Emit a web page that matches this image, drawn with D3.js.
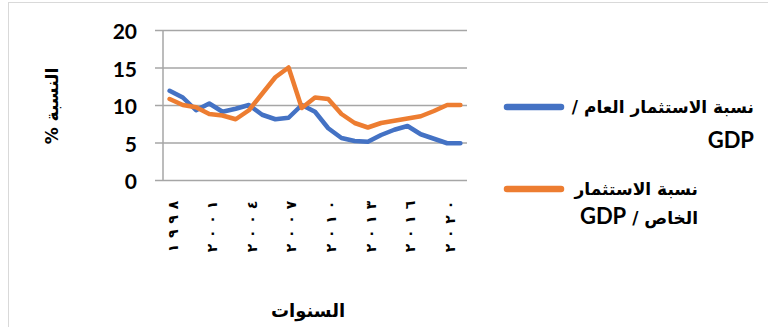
<!DOCTYPE html>
<html>
<head>
<meta charset="utf-8">
<script src="https://cdn.jsdelivr.net/npm/d3@7"></script>
<style>
  body { margin: 0; background: #fff; }
  svg { display: block; }
</style>
</head>
<body>
<div id="chart-container"></div>
<script>
// years on the category axis (23 points)
var categories = ["1998","1999","2000","2001","2002","2003","2004","2005","2006","2007","2008",
                  "2009","2010","2011","2012","2013","2014","2015","2016","2017","2018","2019","2020"];
// labels shown under the axis, one for every 3rd category
var xTickLabels = ["١٩٩٨","٢٠٠١","٢٠٠٤","٢٠٠٧","٢٠١٠","٢٠١٣","٢٠١٦","٢٠٢٠"];
var yTicks = [0, 5, 10, 15, 20];

var publicInv = [11.9, 11.0, 9.3, 10.2, 9.1, 9.5, 10.0, 8.7, 8.1, 8.3, 10.0, 9.1,
                 6.9, 5.6, 5.2, 5.1, 6.0, 6.7, 7.2, 6.1, 5.5, 4.9, 4.9];
var privateInv = [10.8, 10.0, 9.7, 8.8, 8.6, 8.1, 9.3, 11.5, 13.7, 15.0, 9.6, 11.0,
                  10.8, 8.8, 7.6, 7.0, 7.6, 7.9, 8.2, 8.5, 9.2, 10.0, 10.0];

// legend text, split per line: [arabic part, latin part]
var seriesNames = [
  [["نسبة الاستثمار العام /", ""], ["", "GDP"]],
  [["نسبة الاستثمار", ""], ["الخاص / ", "GDP"]]
];
var seriesColors = ["#4472C4", "#ED7D31"];

var width = 768, height = 327;
var plot = {left: 163, right: 467, top: 30, bottom: 180};

var svg = d3.select("#chart-container")
    .append("svg")
    .attr("width", width)
    .attr("height", height);

// outer chart border
svg.append("rect")
    .attr("x", 8.5).attr("y", 2.5)
    .attr("width", width).attr("height", height)
    .attr("fill", "none")
    .attr("stroke", "#d9d9d9");

var x = d3.scaleBand()
    .domain(categories)
    .range([plot.left, plot.right])
    .padding(0);
var y = d3.scaleLinear()
    .domain([0, 20])
    .range([plot.bottom, plot.top]);

function cx(d) { return x(d) + x.bandwidth() / 2; }

// gridlines + y labels
var yAxis = svg.append("g")
    .attr("transform", "translate(" + plot.left + ",0)")
    .call(d3.axisLeft(y).tickValues(yTicks).tickSize(-(plot.right - plot.left)).tickPadding(26));
yAxis.select(".domain").remove();
yAxis.selectAll(".tick line")
    .attr("x1", -8)
    .attr("stroke", "#a6a6a6")
    .attr("stroke-width", 1.5);
yAxis.selectAll(".tick text")
    .attr("dy", "0.42em")
    .style("font-family", "Lato, 'Open Sans', sans-serif")
    .style("font-weight", "bold")
    .style("font-size", "21px")
    .attr("fill", "#000");

// vertical axis line
svg.append("line")
    .attr("x1", plot.left).attr("x2", plot.left)
    .attr("y1", plot.top).attr("y2", plot.bottom)
    .attr("stroke", "#a6a6a6")
    .attr("stroke-width", 1.5);

// x labels, rotated, every third category; digits spaced out one by one
var tickCats = xTickLabels.map(function(t, i) { return categories[i * 3]; });
var xLabel = svg.append("g").selectAll("g")
    .data(tickCats)
  .enter().append("g")
    .attr("transform", function(d) { return "translate(" + (cx(d) + 3) + ",0) rotate(-90)"; });
xLabel.selectAll("text")
    .data(function(d, i) { return Array.from(xTickLabels[i]); })
  .enter().append("text")
    .attr("x", function(c, j) { return -(248 - j * 14.3); })
    .attr("text-anchor", "middle")
    .attr("dy", "0.35em")
    .style("font-family", "'DejaVu Sans', sans-serif")
    .style("font-weight", "bold")
    .style("font-size", "14px")
    .text(function(c) { return c; });

// series lines
var line = d3.line()
    .x(function(d, i) { return cx(categories[i]); })
    .y(function(d) { return y(d); });

[publicInv, privateInv].forEach(function(values, k) {
  svg.append("path")
      .datum(values)
      .attr("d", line)
      .attr("fill", "none")
      .attr("stroke", seriesColors[k])
      .attr("stroke-width", 4.5)
      .attr("stroke-linejoin", "round")
      .attr("stroke-linecap", "round");
});

// axis titles
svg.append("text")
    .attr("transform", "translate(52,106) rotate(-90)")
    .attr("text-anchor", "middle")
    .attr("dy", "0.35em")
    .style("font-family", "'DejaVu Sans', sans-serif")
    .style("font-weight", "bold")
    .style("font-size", "17px")
    .text("\u202Bالنسبة %\u202C");

svg.append("text")
    .attr("x", 308).attr("y", 311)
    .attr("text-anchor", "middle")
    .attr("dy", "0.35em")
    .style("font-family", "'DejaVu Sans', sans-serif")
    .style("font-weight", "bold")
    .style("font-size", "18px")
    .text("السنوات");

// legend
var legendY = [107, 189];
var legendGap = [33, 29];
var legendRight = [754, 698];
seriesNames.forEach(function(lines, k) {
  svg.append("line")
      .attr("x1", 507).attr("x2", 561)
      .attr("y1", legendY[k]).attr("y2", legendY[k])
      .attr("stroke", seriesColors[k])
      .attr("stroke-width", 6.5)
      .attr("stroke-linecap", "round");
  lines.forEach(function(parts, j) {
    var t = svg.append("text")
        .attr("x", legendRight[k])
        .attr("y", legendY[k] + j * legendGap[k])
        .attr("text-anchor", "end")
        .attr("dy", "0.36em")
        .style("font-family", "'DejaVu Sans', sans-serif")
        .style("font-weight", "bold")
        .style("font-size", "17px");
    if (parts[0] && parts[1]) {
      t.append("tspan").text("\u202B" + parts[0]);
      t.append("tspan")
          .style("font-family", "Lato, sans-serif")
          .style("font-size", "22px")
          .text(parts[1] + "\u202C");
    } else if (parts[0]) {
      t.text("\u202B" + parts[0] + "\u202C");
    } else {
      t.style("font-family", "Lato, sans-serif")
          .style("font-size", "22px")
          .text(parts[1]);
    }
  });
});
</script>
</body>
</html>
